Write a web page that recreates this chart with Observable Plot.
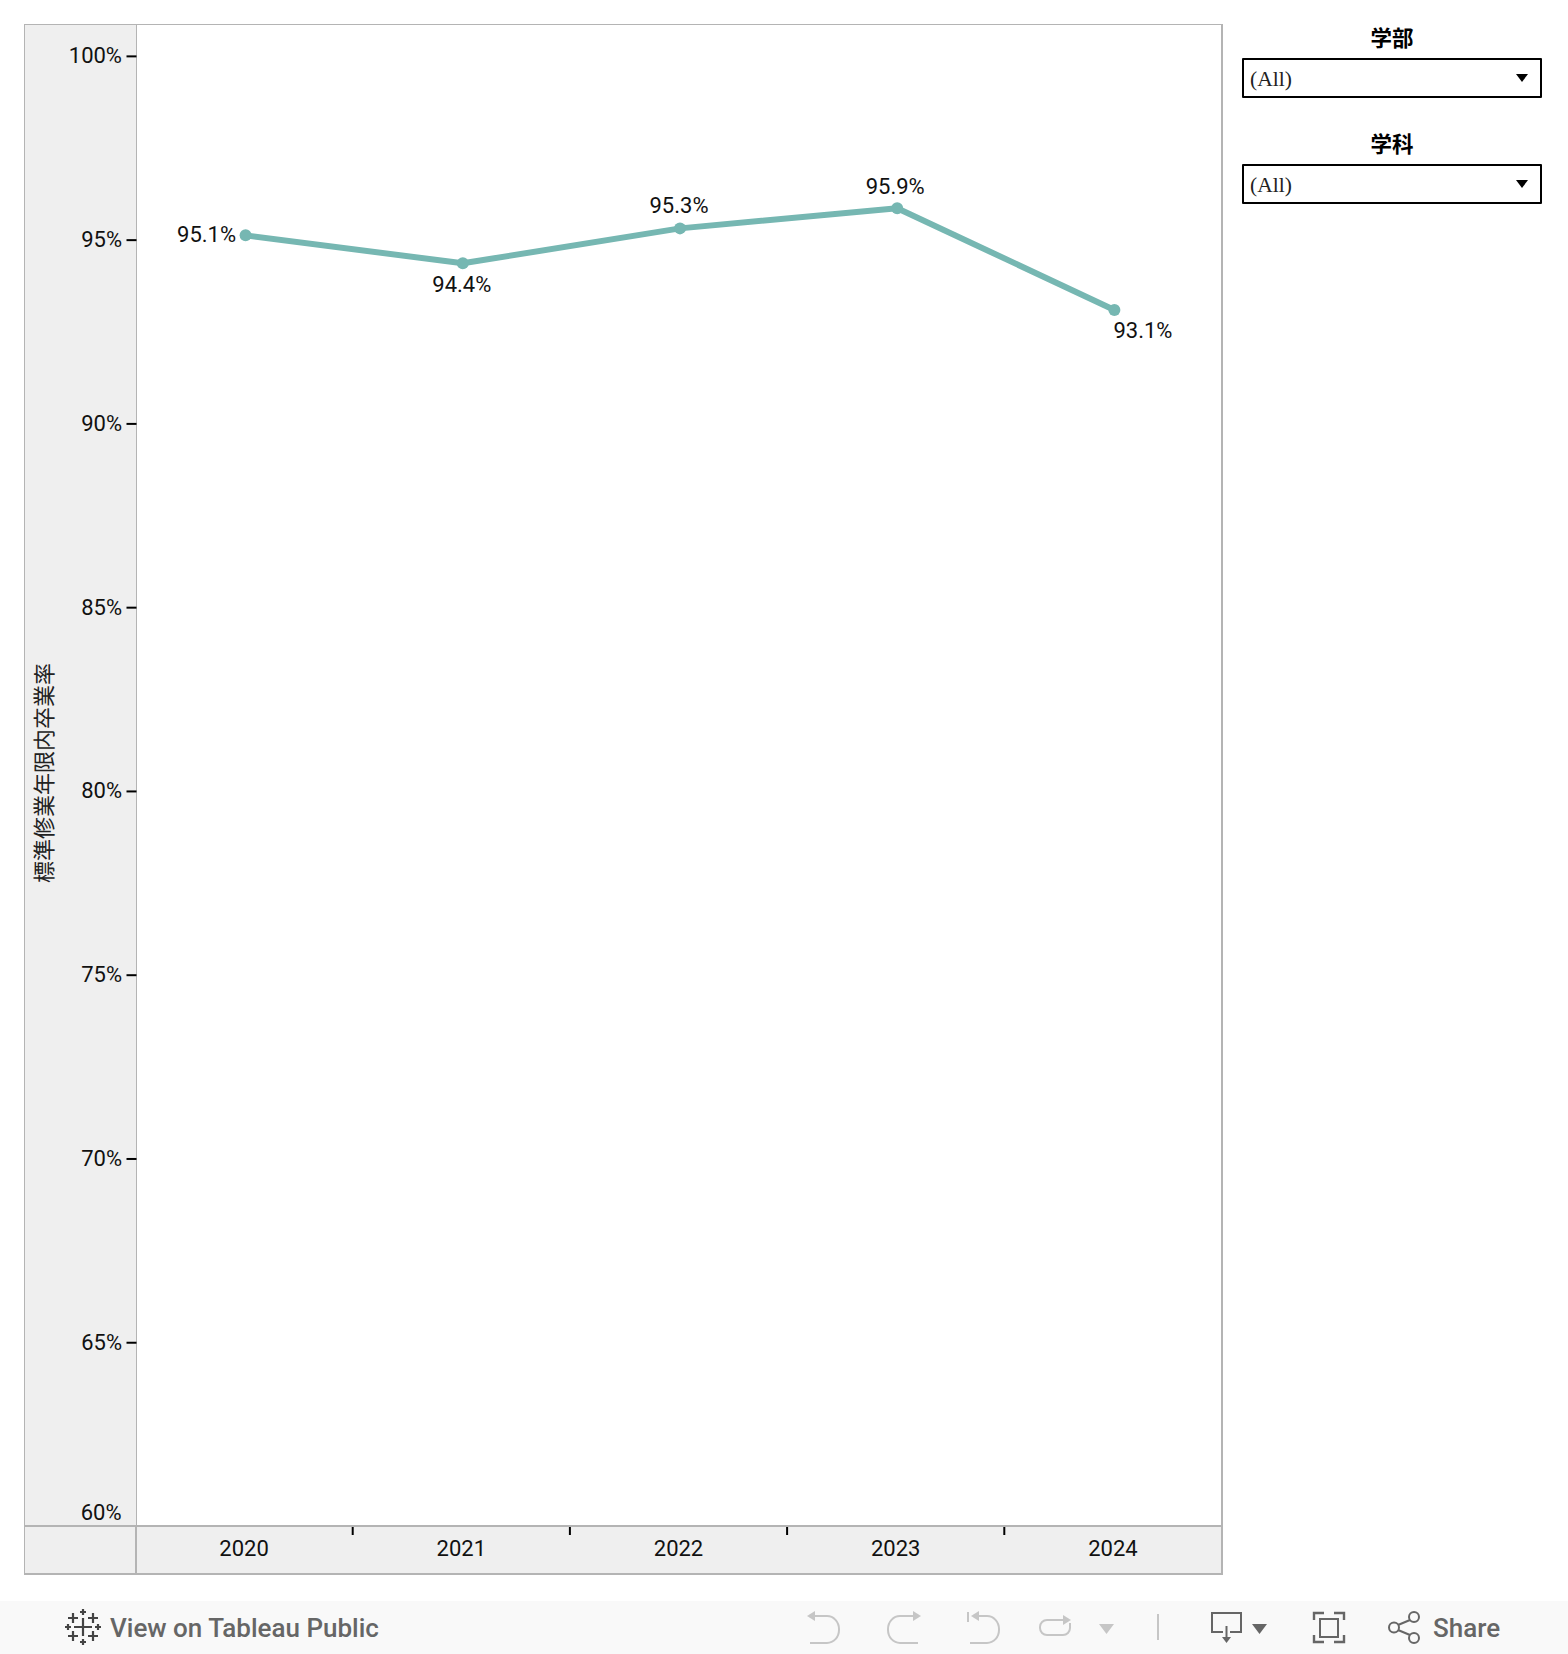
<!DOCTYPE html>
<html lang="ja"><head><meta charset="utf-8">
<script src="https://cdn.jsdelivr.net/npm/d3@7"></script>
<script src="https://cdn.jsdelivr.net/npm/@observablehq/plot@0.6"></script>
<style>
html,body{margin:0;padding:0;background:#fff}
#stage{position:relative;width:1568px;height:1654px;overflow:hidden;background:#fff}
.abs{position:absolute;box-sizing:border-box}
#chart{position:absolute;left:0;top:0}
#chart svg{background:transparent;display:block}
.ftitle{left:1242px;width:300px;text-align:center;font:700 21.5px/28px "Noto Sans CJK JP",sans-serif;color:#000}
.fbox{left:1242px;width:300px;height:40px;border:2px solid #000;border-radius:1px;background:#fff;font:21.5px/39px "Liberation Serif",serif;color:#222;padding-left:6px}
.arrow{left:1516px;width:0;height:0;border-left:6px solid transparent;border-right:6px solid transparent;border-top:8px solid #000}
#toolbar{left:0;top:1601px;width:1568px;height:53px;background:#f9f9f9}
#view{left:110px;top:1612px;font:500 26px/32px Roboto,sans-serif;color:#666;white-space:nowrap}
#share{left:1433px;top:1612px;font:500 26px/32px Roboto,sans-serif;color:#666}
</style></head>
<body><div id="stage">
<div class="abs" style="left:24px;top:24px;width:113px;height:1503px;background:#efefef;border:solid #b4b4b4;border-width:1px 1px 0 1px"></div>
<div class="abs" style="left:136px;top:24px;width:1087px;height:1504px;border:solid #b4b4b4;border-width:1px 2px 0 0"></div>
<div class="abs" style="left:24px;top:1525px;width:1199px;height:50px;background:#efefef;border:solid #b4b4b4;border-width:2px 2px 2px 1px"></div>
<div class="abs" style="left:135px;top:1526px;width:2px;height:48px;background:#b4b4b4"></div>
<div id="chart"></div>
<div class="abs ftitle" style="top:23px">学部</div>
<div class="abs fbox" style="top:58px">(All)</div>
<div class="abs arrow" style="top:74px"></div>
<div class="abs ftitle" style="top:129px">学科</div>
<div class="abs fbox" style="top:164px">(All)</div>
<div class="abs arrow" style="top:180px"></div>
<div class="abs" id="toolbar"></div>
<div class="abs" id="view">View on Tableau Public</div>
<div class="abs" id="share">Share</div>
<svg class="abs" style="left:0;top:0;pointer-events:none" width="1568" height="1654" fill="none">
 <g stroke="#444" stroke-width="2.2">
  <path d="M83 1618v18M74 1627h18"/>
  <path d="M73 1613v10M68 1618h10M93 1613v10M88 1618h10M73 1631v10M68 1636h10M93 1631v10M88 1636h10"/>
  <path d="M83 1609v6M80 1612h6M83 1639v6M80 1642h6M68 1624v6M65 1627h6M98 1624v6M95 1627h6"/>
 </g>
 <g stroke="#c6c6c6" stroke-width="2">
  <path d="M810 1616h17a12 13 0 0 1 12 13v1a12 13 0 0 1-12 13h-17"/><path d="M807 1616l8-5v10z" fill="#c6c6c6" stroke="none"/>
  <path d="M918 1616h-18a12 13 0 0 0-12 13v1a12 13 0 0 0 12 13h18"/><path d="M921 1616l-8-5v10z" fill="#c6c6c6" stroke="none"/>
  <path d="M968 1612v10M974 1616h13a12 13 0 0 1 12 13v1a12 13 0 0 1-12 13h-17"/><path d="M971 1616l8-5v10z" fill="#c6c6c6" stroke="none"/>
  <path d="M1066 1620h-19a7 7 0 0 0-7 7v1a7 7 0 0 0 7 7h16a7 7 0 0 0 7-7v-5"/><path d="M1071 1620l-8-5v10z" fill="#c6c6c6" stroke="none"/>
  <path d="M1099 1624h15l-7.500 10z" fill="#c6c6c6" stroke="none"/>
  <path d="M1158 1614v26"/>
 </g>
 <g stroke="#666" stroke-width="2" transform="translate(2 0)">
  <path d="M1221 1632h-11v-19h29v19h-11"/><path d="M1224.500 1626v13"/><path d="M1220 1637h9l-4.500 6z" fill="#666" stroke="none"/>
  <path d="M1250 1624h15l-7.500 10z" fill="#666" stroke="none"/>
  <path d="M1312 1620v-7h10M1332 1613h10v7M1312 1635v7h10M1332 1642h10v-7" stroke-width="2.400"/>
  <rect x="1318" y="1619" width="18" height="18"/>
  <circle cx="1412" cy="1617" r="5"/><circle cx="1412" cy="1638" r="5"/><circle cx="1392" cy="1627.500" r="5"/>
  <path d="M1408 1620l-12 5M1408 1635l-12-5"/>
 </g>
</svg>
</div>
<script>
const years = [2020, 2021, 2022, 2023, 2024];
const rates = [95.13, 94.37, 95.32, 95.87, 93.1];
const yTicks = [65, 70, 75, 80, 85, 90, 95, 100];
const bandEdges = [2020.5, 2021.5, 2022.5, 2023.5];
const axisLabel = "標準修業年限内卒業率";

const rows = years.map((year, i) => ({year, rate: rates[i]}));
const fontFamily = "Roboto, sans-serif";
const fs = 22;
const pointLabel = (year, opts) => Plot.text(rows.filter(d => d.year === year), {
  x: "year", y: "rate", text: d => d.rate.toFixed(1) + "%",
  fontSize: fs, fontFamily, fill: "#111", ...opts
});

const chart = Plot.plot({
  width: 1568, height: 1654,
  marginLeft: 136.5, marginRight: 345.5, marginTop: 25, marginBottom: 128,
  style: {background: "transparent", fontFamily},
  x: {domain: [2019.5, 2024.5], axis: null},
  y: {domain: [60, 100.84], axis: null},
  marks: [
    Plot.axisY({anchor: "left", ticks: yTicks, tickSize: 10, tickPadding: 5, strokeWidth: 2, stroke: "#000",
      tickFormat: d => d + "%", fontSize: fs, fontFamily, color: "#111", label: null}),
    Plot.text([60], {x: () => 2019.5, y: d => d, text: d => d + "%", textAnchor: "end", dx: -15.5, dy: -14,
      fontSize: fs, fontFamily, fill: "#111"}),
    Plot.axisX({anchor: "bottom", ticks: bandEdges, tickSize: 8, tickPadding: 0, tickFormat: () => "", strokeWidth: 2, stroke: "#000", dx: -1.5, dy: 1, label: null}),
    Plot.axisX({anchor: "bottom", ticks: years, tickSize: 0, tickPadding: 14, tickFormat: "d", fontSize: fs, fontFamily, color: "#111", dx: -1.5, label: null}),
    Plot.text([axisLabel], {x: () => 2019.5, y: () => 80.5, rotate: -90, dx: -92, text: d => d,
      fontSize: 22, fontFamily: '"Noto Sans CJK JP", sans-serif', fill: "#222"}),
    Plot.line(rows, {x: "year", y: "rate", stroke: "#76b7b2", strokeWidth: 6, curve: "linear"}),
    Plot.dot(rows, {x: "year", y: "rate", r: 6, fill: "#76b7b2"}),
    pointLabel(2020, {textAnchor: "end", dx: -9.5, dy: 0}),
    pointLabel(2021, {dx: -1, dy: 22}),
    pointLabel(2022, {dx: -1, dy: -22.5}),
    pointLabel(2023, {dx: -2, dy: -21}),
    pointLabel(2024, {textAnchor: "start", dx: -1, dy: 21})
  ]
});
document.getElementById("chart").appendChild(chart);
</script>
</body></html>
